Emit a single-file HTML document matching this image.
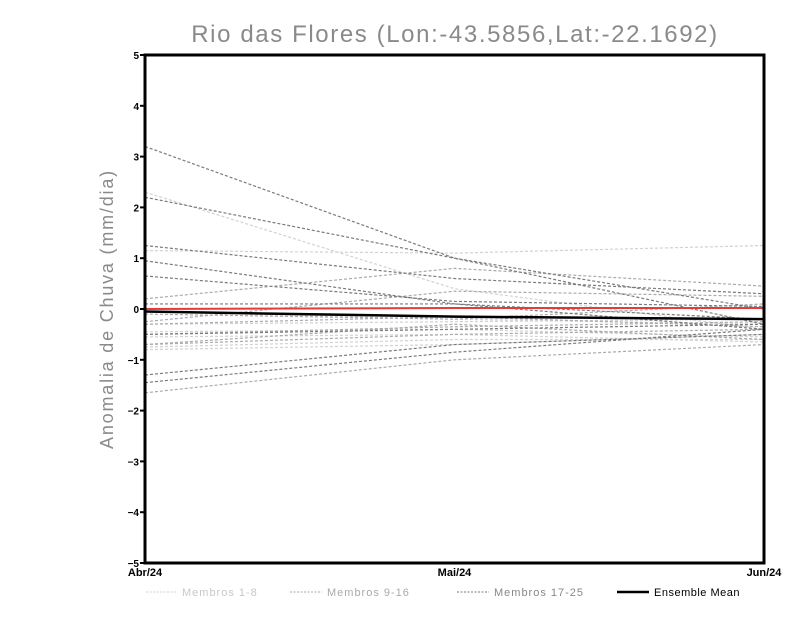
<!DOCTYPE html>
<html><head><meta charset="utf-8"><style>
body{margin:0;background:#fff;width:800px;height:618px;overflow:hidden}
svg{display:block;font-family:"Liberation Sans",sans-serif}
</style></head><body>
<svg id="chart" width="800" height="618">
<text x="455" y="42" text-anchor="middle" font-size="24" letter-spacing="1.6" fill="#8a8a8a">Rio das Flores (Lon:-43.5856,Lat:-22.1692)</text>
<text transform="translate(113,309) rotate(-90)" text-anchor="middle" font-size="18" letter-spacing="1.8" fill="#8a8a8a">Anomalia de Chuva (mm/dia)</text>
<g id="marks"></g>
<rect x="145" y="55" width="619" height="508" fill="none" stroke="#000" stroke-width="3"/>
<g id="axes"></g>
<g>
<line x1="146" y1="592" x2="177" y2="592" stroke="#d0d0d0" stroke-dasharray="2,1.5"/>
<text x="182" y="596" font-size="11" letter-spacing="1" fill="#c8c8c8">Membros 1-8</text>
<line x1="290" y1="592" x2="322" y2="592" stroke="#aaa" stroke-dasharray="2,1.5"/>
<text x="327" y="596" font-size="11" letter-spacing="1" fill="#aaa">Membros 9-16</text>
<line x1="457" y1="592" x2="489" y2="592" stroke="#777" stroke-dasharray="2,1.5"/>
<text x="494" y="596" font-size="11" letter-spacing="1" fill="#888">Membros 17-25</text>
<line x1="617" y1="592" x2="649" y2="592" stroke="#000" stroke-width="2.5"/>
<text x="654" y="596" font-size="11" letter-spacing="0.5" fill="#000">Ensemble Mean</text>
</g>
</svg>
<script>
const categories=["Abr/24","Mai/24","Jun/24"];
const yTicks=[-5,-4,-3,-2,-1,0,1,2,3,4,5];
const membersLight=[[2.3,0.4,-0.4],[1.15,1.1,1.25],[-0.45,-0.4,-0.55],[-0.75,-0.6,-0.6],[-0.3,-0.25,-0.2],[-0.55,-0.5,-0.65],[-0.8,-0.7,-0.5],[-0.05,-0.2,-0.3]];
const membersMid=[[0.2,0.8,0.45],[-0.25,0.35,0.25],[-0.7,-0.5,-0.4],[-0.7,-0.3,-0.6],[-1.65,-1.0,-0.7],[-0.1,-0.2,0.1],[-0.5,-0.35,-0.25],[-0.3,-0.15,-0.35]];
const membersDark=[[3.2,1.0,-0.3],[2.2,1.0,0.0],[1.25,0.6,0.3],[0.95,0.1,-0.2],[0.65,0.15,0.05],[0.1,0.1,-0.4],[-1.3,-0.7,-0.5],[-1.45,-0.85,-0.4],[-0.5,-0.4,-0.3]];
const observed=[0.0,0.02,0.02];
const ensembleMean=[-0.05,-0.15,-0.2];
const NS="http://www.w3.org/2000/svg";
const x=i=>145+i*(619/(categories.length-1));
const y=v=>309-v*50.8;
const marks=document.getElementById('marks'),axes=document.getElementById('axes');
function line(vals,stroke,w,dash,name){
  const p=document.createElementNS(NS,'polyline');
  p.setAttribute('points',vals.map((v,i)=>x(i)+','+y(v)).join(' '));
  p.setAttribute('fill','none');p.setAttribute('stroke',stroke);p.setAttribute('stroke-width',w);
  if(dash)p.setAttribute('stroke-dasharray',dash);
  
  
  marks.appendChild(p);
}
membersLight.forEach((m,i)=>line(m,'#d2d2d2',1.2,'3,2','member-light-'+(i+1)));
membersMid.forEach((m,i)=>line(m,'#ababab',1.2,'3,2','member-mid-'+(i+1)));
membersDark.forEach((m,i)=>line(m,'#7a7a7a',1.2,'3,2','member-dark-'+(i+1)));
line(observed,'#e53b3b',2,null,'observed-line');
line(ensembleMean,'#000',2.5,null,'ensemble-mean-line');
yTicks.forEach(t=>{
  const l=document.createElementNS(NS,'line');
  l.setAttribute('x1',140);l.setAttribute('x2',145);l.setAttribute('y1',y(t));l.setAttribute('y2',y(t));
  l.setAttribute('stroke','#000');l.setAttribute('stroke-width',2);
  
  
  axes.appendChild(l);
  const tx=document.createElementNS(NS,'text');
  tx.setAttribute('x',139);tx.setAttribute('y',y(t)+4);tx.setAttribute('text-anchor','end');
  tx.setAttribute('font-size','10');tx.setAttribute('font-weight','bold');
  tx.textContent=t<0?'\u2212'+(-t):t;
  
  
  axes.appendChild(tx);
});
categories.forEach((c,i)=>{
  const tx=document.createElementNS(NS,'text');
  tx.setAttribute('x',x(i));tx.setAttribute('y',576);tx.setAttribute('text-anchor','middle');
  tx.setAttribute('font-size','11');tx.setAttribute('font-weight','bold');
  tx.textContent=c;
  
  
  axes.appendChild(tx);
});
</script>
</body></html>
